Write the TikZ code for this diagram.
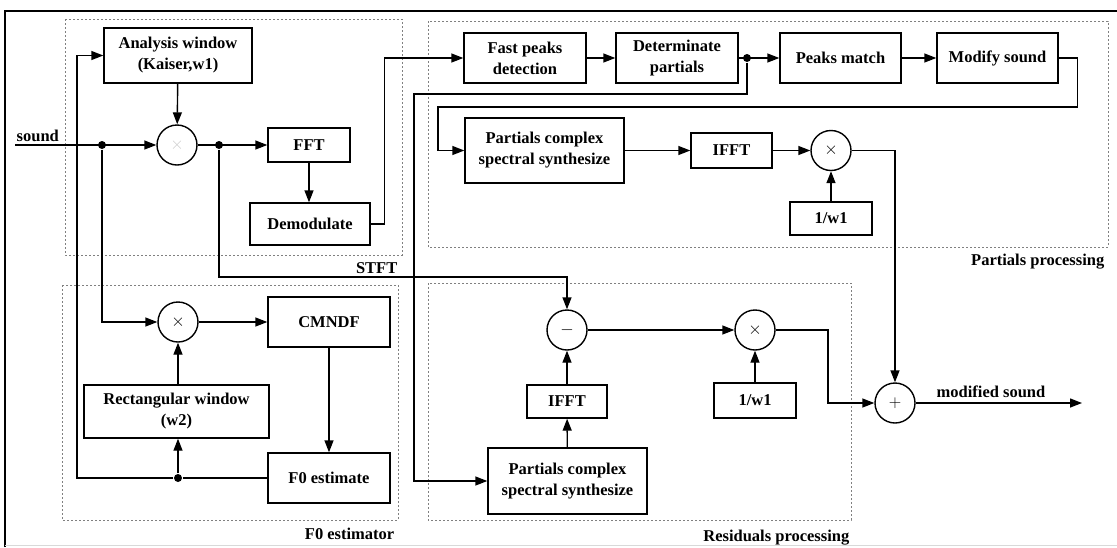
\documentclass[tikz,border=0pt]{standalone}
\usepackage{fontspec}
\setmainfont{Liberation Serif}
\usetikzlibrary{arrows.meta}
\begin{document}
\begin{tikzpicture}[x=1pt,y=-1pt,>={Triangle[length=12pt,width=9pt]},line width=1.4pt]
		\tikzstyle{block} = [draw,rectangle,align=center,inner sep=1pt,font=\fontsize{16.5}{21}\selectfont\bfseries]
		\tikzstyle{summer} = [draw,circle,minimum size=40pt,inner sep=0pt,font=\fontsize{16}{16}\selectfont]
		\tikzstyle{group} = [draw=gray,line width=0.9pt,dash pattern=on 2pt off 2pt]
		\tikzstyle{grouplabel} = [anchor=base east,inner sep=0pt,font=\fontsize{16.5}{20}\selectfont\bfseries]
		\tikzstyle{dotj} = [fill,circle,inner sep=0pt,minimum size=8pt]
		\useasboundingbox (0,0) rectangle (1117,547);
		% frame
		\draw[line width=2.2pt] (5,547) -- (5,11) -- (1117,11);
		\draw[gray!30,line width=0.8pt] (5,545) -- (1117,545);
		% groups
		\draw[group] (65,19) rectangle (402,255);
		\draw[group] (428,21) rectangle (1108,247);
		\draw[group] (62,285) rectangle (398,520);
		\draw[group] (428,283) rectangle (851,520);
		\node[grouplabel] at (398,273) {STFT};
		\node[grouplabel] at (1105,265) {Partials processing};
		\node[grouplabel] at (395,539) {F0 estimator};
		\node[grouplabel] at (850,541) {Residuals processing};
		% STFT
		\node[block,minimum width=148pt,minimum height=55pt] (awin) at (178,55.5) {Analysis window\\(Kaiser,w1)};
		\node[summer] (mul0) at (177,145) {\textcolor{gray!40}{$\times$}};
		\node[block,minimum width=82pt,minimum height=34pt] (fft) at (309,145) {FFT};
		\node[block,minimum width=120pt,minimum height=42pt] (demod) at (310,224) {Demodulate};
		% partials
		\node[block,minimum width=122pt,minimum height=50pt] (fpd) at (525,58) {Fast peaks\\detection};
		\node[block,minimum width=122pt,minimum height=50pt] (detp) at (677,58) {Determinate\\partials};
		\node[block,minimum width=121pt,minimum height=50pt] (pmatch) at (840.5,58) {Peaks match};
		\node[block,minimum width=121pt,minimum height=50pt] (modsnd) at (997.5,58) {Modify sound};
		\node[block,minimum width=159pt,minimum height=65pt] (pcs1) at (544.5,150.5) {Partials complex\\spectral synthesize};
		\node[block,minimum width=81pt,minimum height=35pt] (ifft1) at (731.5,150.5) {IFFT};
		\node[summer] (mul1) at (831,150.5) {$\times$};
		\node[block,minimum width=82pt,minimum height=33pt] (inv1) at (831,218.5) {1/w1};
		% F0 estimator
		\node[summer] (mul2) at (178,322) {$\times$};
		\node[block,minimum width=122pt,minimum height=50pt] (cmndf) at (329,322) {CMNDF};
		\node[block,minimum width=122pt,minimum height=50pt] (f0) at (329,478) {F0 estimate};
		\node[block,minimum width=185pt,minimum height=53pt] (rwin) at (176.5,411.5) {Rectangular window\\(w2)};
		% residuals
		\node[summer] (minus) at (567,330) {$-$};
		\node[block,minimum width=80pt,minimum height=33pt] (ifft2) at (567,401.5) {IFFT};
		\node[block,minimum width=159pt,minimum height=66pt] (pcs2) at (567.5,481) {Partials complex\\spectral synthesize};
		\node[summer] (mul3) at (755,330) {$\times$};
		\node[block,minimum width=82pt,minimum height=35pt] (inv2) at (755,400.5) {1/w1};
		\node[summer] (plus) at (895,403) {$+$};
		% in / out
		\coordinate (sndin) at (15,145);
		\coordinate (sndout) at (1082,403);
		\node[anchor=south west,inner sep=1pt,font=\fontsize{16.5}{20}\selectfont\bfseries] (sndlbl) at (15,143) {sound};
		\node[anchor=south,inner sep=2pt,font=\fontsize{16.5}{20}\selectfont\bfseries] (outlbl) at (991,400) {modified sound};
		\node[dotj] (j1) at (102,145) {};
		\node[dotj] (j2) at (219,145) {};
		\node[dotj] (j3) at (747,58) {};
		\node[dotj] (j4) at (178,478) {};
		\coordinate (ret) at (438,107);
		\coordinate (bus) at (414,94);
		\coordinate (side) at (77,478);
		\coordinate (knee) at (828,330);
		% connectors
		\draw[->] (sndin) -- (mul0);
		\draw[->] (j1) |- (mul2);
		\draw[->] (awin) -- (mul0);
		\draw[->] (mul0) -- (fft);
		\draw[->] (j2) -- (j2 |- 0,277) -| (minus);
		\draw[->] (fft) -- (fft |- demod.north);
		\draw[->] (demod.east) -- ++(14,0) |- (fpd);
		\draw[->] (fpd) -- (detp);
		\draw[->] (detp) -- (pmatch);
		\draw[->] (pmatch) -- (modsnd);
		\draw[->] (modsnd.east) -- ++(19,0) |- (ret) |- (pcs1);
		\draw[->] (j3) |- (bus) |- (pcs2);
		\draw[->] (pcs1) -- (ifft1);
		\draw[->] (ifft1) -- (mul1);
		\draw[->] (inv1) -- (mul1);
		\draw[->] (mul1) -| (plus);
		\draw[->] (mul2) -- (cmndf);
		\draw[->] (cmndf) -- (f0);
		\draw[->] (rwin.north -| mul2) -- (mul2);
		\draw (f0) -- (j4);
		\draw[->] (j4) -- (rwin.south -| j4);
		\draw[->] (j4) -- (side) |- (awin);
		\draw[->] (pcs2) -- (ifft2);
		\draw[->] (ifft2) -- (minus);
		\draw[->] (minus) -- (mul3);
		\draw[->] (inv2) -- (mul3);
		\draw[->] (mul3) -- (knee) |- (plus);
		\draw[->] (plus) -- (sndout);
	\end{tikzpicture}
\end{document}
